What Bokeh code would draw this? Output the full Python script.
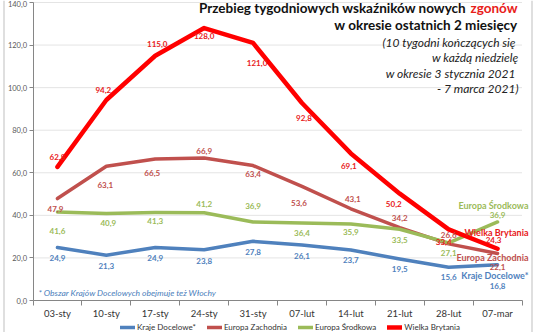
import numpy as np
from bokeh.plotting import figure
from bokeh.models import (Range1d, FixedTicker, Label, Legend, LegendItem,
                          ColumnDataSource, BoxAnnotation, LinearAxis)
from bokeh.core.properties import value
from bokeh.embed import file_html
from bokeh.resources import INLINE

# ---------------- data ----------------
weeks = ["03-sty", "10-sty", "17-sty", "24-sty", "31-sty",
         "07-lut", "14-lut", "21-lut", "28-lut", "07-mar"]
kraje_docelowe = [24.9, 21.3, 24.9, 23.8, 27.8, 26.1, 23.7, 19.5, 15.6, 16.8]
europa_zachodnia = [47.9, 63.1, 66.5, 66.9, 63.4, 53.6, 43.1, 34.2, 26.6, 22.1]
europa_srodkowa = [41.6, 40.9, 41.3, 41.2, 36.9, 36.4, 35.9, 33.5, 27.1, 36.9]
wielka_brytania = [62.8, 94.2, 115.0, 128.0, 121.0, 92.8, 69.1, 50.2, 33.4, 24.3]
series_names = ["Kraje Docelowe*", "Europa Zachodnia", "Europa Środkowa", "Wielka Brytania"]
y_ticks = [0, 20, 40, 60, 80, 100, 120, 140]

# ---------------- layout / style ----------------
W, H = 536, 332
PLOT_L, PLOT_R, PLOT_T, PLOT_B = 32.5, 521.5, 2.0, 300.0   # plot area in pixels
Y_MAX = 140.0
n = len(weeks)
band = (PLOT_R - PLOT_L) / n
c0 = PLOT_L + band / 2
x_start = -c0 / band
x_end = (W - c0) / band
ppu = (PLOT_B - PLOT_T) / Y_MAX
y_start = -(H - PLOT_B) / ppu
y_end = PLOT_B / ppu

FONT = "Lato"
line_colors = ["#4F81BD", "#C0504D", "#9BBB59", "#FF0000"]
label_colors = ["#4F81BD", "#C0504D", "#9BBB59", "#E8201A"]
line_widths = [3.5, 3.5, 3.5, 4.5]
# label placement (screen px offsets, + = down)
dy = [
    [11, 11, 11, 11, 11, 11, 10, 10, 10, 21],
    [10, 19, 14, -7, 8, 17, -10, -10, -9, 14],
    [19, 10, 8, -9, -16, 10, 8, 11, 10, -7],
    [-10, -10, -12, 8, 20, 15, 13, 10, 13, -9],
]
dx = [
    [0, 0, 0, 0, 0, 0, 0, 0, 0, 0],
    [-2, -1, -3, 0, 0, -3, 2, 0, 0, 0],
    [0, 2, 0, 0, 0, 0, 0, 0, 0, 0],
    [0, -3, 2, 0, 4, 2, -2, -6, -5, -4],
]

x = np.arange(n)

p = figure(width=W, height=H, output_backend="svg", toolbar_location=None,
           title=None, x_range=Range1d(x_start, x_end), y_range=Range1d(y_start, y_end),
           x_axis_type=None, y_axis_type=None,
           min_border=0, min_border_left=0, min_border_right=0,
           min_border_top=0, min_border_bottom=0)
p.outline_line_color = None
p.background_fill_color = "white"
p.border_fill_color = "white"
p.grid.visible = False

# gridlines from tick values
p.segment(x0=[-0.5] * (len(y_ticks) - 1), x1=[n - 0.5] * (len(y_ticks) - 1),
          y0=y_ticks[1:], y1=y_ticks[1:], line_color="#E4E4E4", line_width=1)

# axes placed at fixed locations
xaxis = LinearAxis(fixed_location=0, bounds=(-0.5, n - 0.5))
xaxis.ticker = FixedTicker(ticks=list(x), minor_ticks=list(np.arange(-0.5, n, 1.0)))
xaxis.major_label_overrides = {int(i): w for i, w in zip(x, weeks)}
xaxis.major_tick_out = 0
xaxis.major_tick_in = 0
xaxis.minor_tick_out = 5
xaxis.minor_tick_in = 0
xaxis.minor_tick_line_color = "#868686"
xaxis.axis_line_color = "#868686"
xaxis.major_label_standoff = 2
xaxis.major_label_text_font = FONT
xaxis.major_label_text_font_size = "9.5px"
xaxis.major_label_text_color = "#333333"
p.add_layout(xaxis, "below")

yaxis = LinearAxis(fixed_location=-0.5, bounds=(0, Y_MAX))
yaxis.ticker = FixedTicker(ticks=y_ticks)
yaxis.major_label_overrides = {t: f"{t:.1f}".replace(".", ",") for t in y_ticks}
yaxis.axis_line_color = "#868686"
yaxis.major_tick_line_color = "#868686"
yaxis.major_tick_out = 4
yaxis.major_tick_in = 0
yaxis.minor_tick_line_color = None
yaxis.major_label_standoff = 2
yaxis.major_label_text_font = FONT
yaxis.major_label_text_font_size = "7.5px"
yaxis.major_label_text_color = "#595959"
p.add_layout(yaxis, "left")

all_series = [kraje_docelowe, europa_zachodnia, europa_srodkowa, wielka_brytania]
renderers = []
for i, vals in enumerate(all_series):
    r = p.line(x, vals, line_color=line_colors[i], line_width=line_widths[i],
               line_join="round", line_cap="round")
    renderers.append(r)

for i, vals in enumerate(all_series):
    src = ColumnDataSource(dict(x=x, y=vals,
                                t=[f"{v:.1f}".replace(".", ",") for v in vals],
                                dx=dx[i], dy=dy[i]))
    p.text(x="x", y="y", text="t", source=src, x_offset="dx", y_offset="dy",
           text_font=value(FONT), text_font_style="bold",
           text_font_size="8px", text_color=label_colors[i],
           text_align="center", text_baseline="middle")


def scr_label(txt, x_px, y_px, size, style, color, align="right"):
    p.add_layout(Label(x=x_px, y=H - y_px, x_units="screen", y_units="screen",
                       text=txt, text_font=FONT, text_font_style=style,
                       text_font_size=size, text_color=color,
                       text_align=align, text_baseline="middle"))


# series name labels near the right end
name_y_px = [275, 257, 205, 232]
for i, nm in enumerate(series_names):
    scr_label(nm, 528, name_y_px[i], "9px", "bold", label_colors[i])

# title
scr_label("zgonów", 517, 7, "13.5px", "bold", "#E8201A")
scr_label("Przebieg tygodniowych wskaźników nowych ", 469, 7, "13.5px", "bold", "#111111")
scr_label("w okresie ostatnich 2 miesięcy", 517, 24, "13.5px", "bold", "#111111")
for txt, yy in [("(10 tygodni kończących się ", 42), ("w każdą niedzielę", 57),
                ("w okresie 3 stycznia 2021 ", 73), ("- 7 marca 2021)", 88)]:
    scr_label(txt, 518, yy, "12px", "italic", "#222222")

# footnote
scr_label("* Obszar Krajów Docelowych obejmuje też  Włochy", 38, 292, "8.5px",
          "italic", "#4A7EBB", align="left")

# outer border lines
for xl in [3, 531]:
    p.add_layout(BoxAnnotation(left=xl, right=xl + 1, bottom=0, top=H,
                               left_units="screen", right_units="screen",
                               bottom_units="screen", top_units="screen",
                               fill_color="#BFBFBF", fill_alpha=1, line_color=None))

legend = Legend(items=[LegendItem(label=series_names[i], renderers=[renderers[i]]) for i in range(4)],
                orientation="horizontal", location=(120, 0),
                glyph_width=15, glyph_height=8, label_height=8, label_standoff=2,
                spacing=11, padding=0, margin=0,
                label_text_font=FONT, label_text_font_size="8px",
                label_text_color="#333333",
                border_line_color=None, background_fill_alpha=0)
p.add_layout(legend)

open("out.html", "w").write(file_html(p, INLINE))
